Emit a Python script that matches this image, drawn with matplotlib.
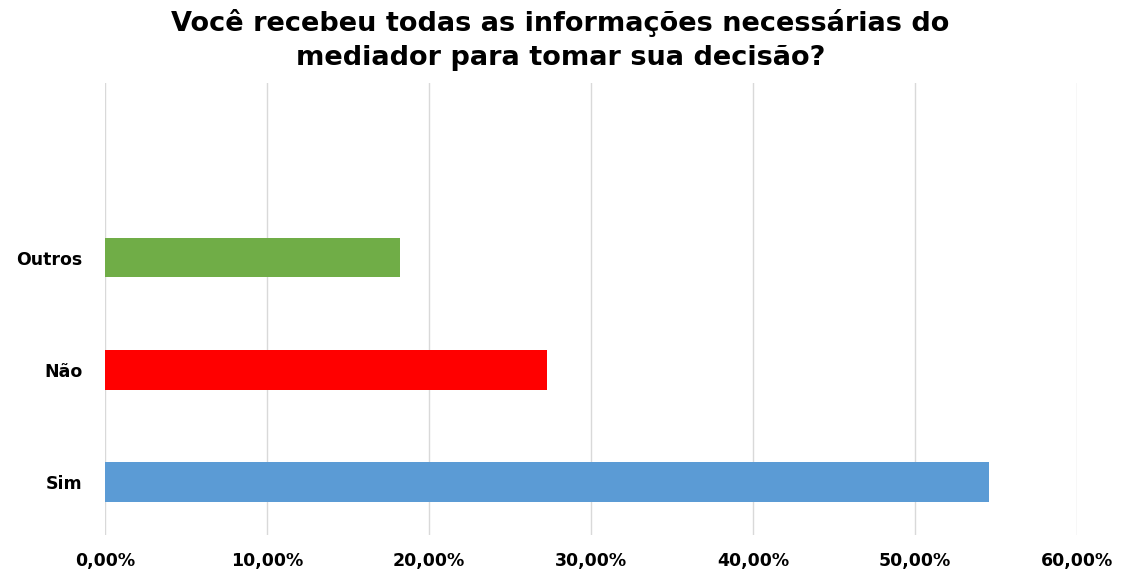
import matplotlib.pyplot as plt
from matplotlib.ticker import FuncFormatter

# survey answers, share of respondents
categorias = ['Sim', 'Não', 'Outros']
percentuais = [54.55, 27.27, 18.18]
cores = ['#5B9BD5', '#FF0000', '#70AD47']
titulo = 'Você recebeu todas as informações necessárias do\nmediador para tomar sua decisão?'

plt.rcParams['font.family'] = ['DejaVu Sans']

fig = plt.figure(figsize=(11.21, 5.72), dpi=100)
ax = fig.add_axes([105 / 1121, 37 / 572, 972 / 1121, 452 / 572])

pos = list(range(len(categorias)))
ax.barh(pos, percentuais, height=0.35, color=cores, zorder=3)

ax.set_xlim(0, 60)
ax.set_ylim(-0.473, 3.56)
ax.set_xticks(range(0, 61, 10))
ax.xaxis.set_major_formatter(FuncFormatter(lambda v, p: f'{v:.2f}%'.replace('.', ',')))
ax.set_yticks(pos)
ax.set_yticklabels(categorias)

ax.grid(axis='x', color='#D9D9D9', linewidth=1, zorder=0)
for s in ax.spines.values():
    s.set_visible(False)
ax.tick_params(axis='both', length=0, labelsize=12.5)
ax.tick_params(axis='x', pad=12)
ax.tick_params(axis='y', pad=16)
for lbl in ax.get_xticklabels() + ax.get_yticklabels():
    lbl.set_fontweight('bold')

fig.text(0.5, 1 - 40 / 572, titulo, ha='center', va='center',
         fontsize=19.5, fontweight='bold', linespacing=1.4)

fig.savefig('out.png', dpi=100)
